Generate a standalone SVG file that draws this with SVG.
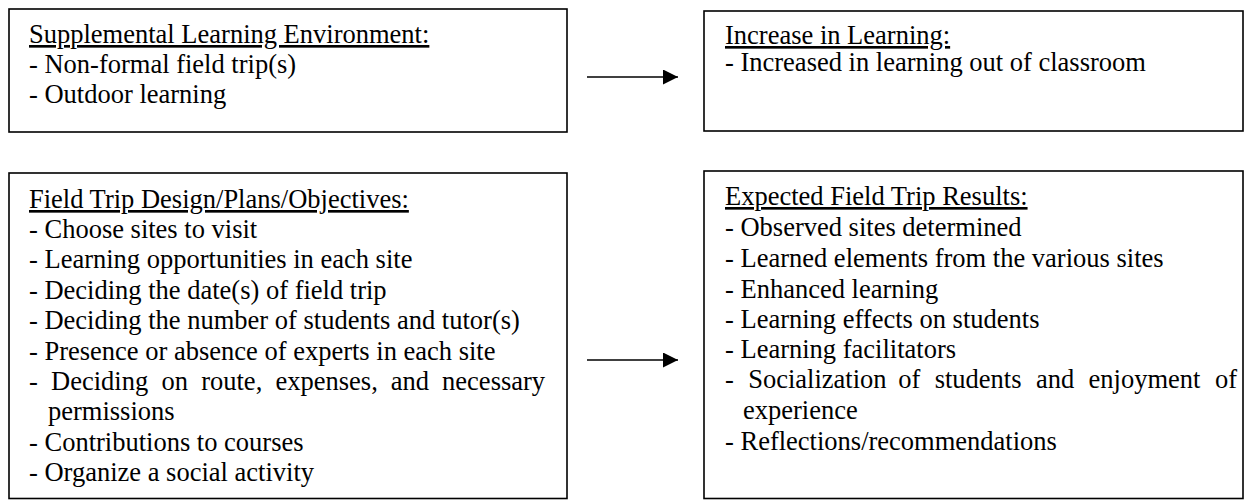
<svg xmlns="http://www.w3.org/2000/svg" width="1247" height="500" viewBox="0 0 1247 500">
<style>
.box{fill:#fff;stroke:#000;stroke-width:1.6}
text{font-family:"Liberation Serif","Times New Roman",serif;font-size:26.5px;fill:#000}
.h{text-decoration:underline}
.conn line{stroke:#000;stroke-width:1.6}
</style>
<defs>
<marker id="ah" viewBox="0 0 15 15" refX="15" refY="7.5" markerWidth="15" markerHeight="15" markerUnits="userSpaceOnUse" orient="auto">
<path d="M0,0 L15,7.5 L0,15 Z" fill="#000"/>
</marker>
</defs>
<rect width="1247" height="500" fill="#fff"/>
<g id="supplemental">
<rect class="box" x="9" y="9" width="558" height="123"/>
<text x="29" y="43" class="h">Supplemental Learning Environment:</text>
<text x="29" y="73">- Non-formal field trip(s)</text>
<text x="29" y="103">- Outdoor learning</text>
</g>
<g id="increase">
<rect class="box" x="704" y="11" width="539" height="120"/>
<text x="725" y="44" class="h">Increase in Learning:</text>
<text x="725" y="71">- Increased in learning out of classroom</text>
</g>
<g id="design">
<rect class="box" x="9" y="173" width="558" height="325.5"/>
<text x="29" y="208" class="h">Field Trip Design/Plans/Objectives:</text>
<text x="29" y="238">- Choose sites to visit</text>
<text x="29" y="268">- Learning opportunities in each site</text>
<text x="29" y="299">- Deciding the date(s) of field trip</text>
<text x="29" y="329">- Deciding the number of students and tutor(s)</text>
<text x="29" y="360">- Presence or absence of experts in each site</text>
<text y="390"><tspan x="29">-</tspan><tspan x="51.1">Deciding</tspan><tspan x="161.4">on</tspan><tspan x="201.2">route,</tspan><tspan x="275.5">expenses,</tspan><tspan x="390.8">and</tspan><tspan x="442.1">necessary</tspan></text>
<text x="48" y="420">permissions</text>
<text x="29" y="451">- Contributions to courses</text>
<text x="29" y="481">- Organize a social activity</text>
</g>
<g id="results">
<rect class="box" x="704" y="171" width="539" height="327.5"/>
<text x="725" y="205" class="h">Expected Field Trip Results:</text>
<text x="725" y="236">- Observed sites determined</text>
<text x="725" y="267">- Learned elements from the various sites</text>
<text x="725" y="298">- Enhanced learning</text>
<text x="725" y="328">- Learning effects on students</text>
<text x="725" y="358">- Learning facilitators</text>
<text y="388"><tspan x="725">-</tspan><tspan x="748.2">Socialization</tspan><tspan x="898.3">of</tspan><tspan x="934.7">students</tspan><tspan x="1036">and</tspan><tspan x="1088.6">enjoyment</tspan><tspan x="1214.9">of</tspan></text>
<text x="743" y="419">experience</text>
<text x="725" y="450">- Reflections/recommendations</text>
</g>
<g id="connectors" class="conn">
<line x1="587" y1="77" x2="678" y2="77" marker-end="url(#ah)"/>
<line x1="587" y1="360" x2="678" y2="360" marker-end="url(#ah)"/>
</g>
</svg>
